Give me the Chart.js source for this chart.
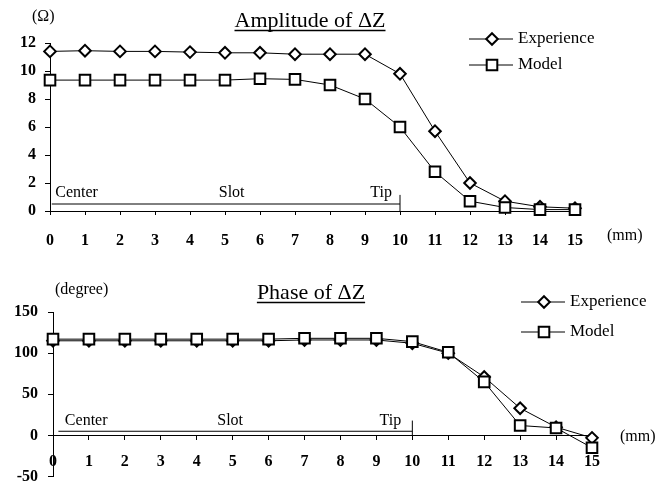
<!DOCTYPE html>
<html>
<head>
<meta charset="utf-8">
<script src="https://cdn.jsdelivr.net/npm/chart.js@4.4.1/dist/chart.umd.min.js"></script>
<style>
  body { margin: 0; background: #fff; width: 658px; height: 486px; overflow: hidden; position: relative; }
  canvas { position: absolute; left: 0; }
  #ampChart { top: 0; }
  #phaseChart { top: 255px; }
</style>
</head>
<body>
<canvas id="ampChart" width="658" height="255"></canvas>
<canvas id="phaseChart" width="658" height="231"></canvas>
<script>
// distance along the slot (mm)
const positions = [0, 1, 2, 3, 4, 5, 6, 7, 8, 9, 10, 11, 12, 13, 14, 15];
const xTicks = [0, 1, 2, 3, 4, 5, 6, 7, 8, 9, 10, 11, 12, 13, 14, 15];

// amplitude of dZ (ohm)
const ampExperience = [11.4, 11.45, 11.4, 11.4, 11.35, 11.3, 11.3, 11.2, 11.2, 11.2, 9.8, 5.7, 2.0, 0.7, 0.3, 0.2];
const ampModel = [9.35, 9.35, 9.35, 9.35, 9.35, 9.35, 9.45, 9.4, 9.0, 8.0, 6.0, 2.8, 0.7, 0.25, 0.1, 0.1];
const ampTicks = [0, 2, 4, 6, 8, 10, 12];

// phase of dZ (degree)
const phaseExperience = [115, 115, 115, 115, 115, 115, 115, 116, 116, 116, 112, 100, 71, 33, 10, -3];
const phaseModel = [117, 117, 117, 117, 117, 117, 117, 118, 118, 118, 114, 101, 65, 12, 9, -15];
const phaseTicks = [-50, 0, 50, 100, 150];

// Center / Slot / Tip marker lines
const ampSlotLine = [{x: 0.05, y: 0.5}, {x: 10, y: 0.5}];
const ampTipLine = [{x: 10, y: 0}, {x: 10, y: 1.15}];
const phaseSlotLine = [{x: 0.15, y: 5}, {x: 10, y: 5}];
const phaseTipLine = [{x: 10, y: 0}, {x: 10, y: 18}];

const serif = '"Liberation Serif", "Times New Roman", serif';
const tickFont = {family: serif, size: 16, weight: 'bold'};

function pts(ys) {
  return positions.map((x, i) => ({x: x, y: ys[i]}));
}

function marker(ctx, style, x, y) {
  ctx.save();
  ctx.fillStyle = '#fff';
  ctx.strokeStyle = '#000';
  ctx.lineWidth = 2;
  ctx.beginPath();
  if (style === 'rect') {
    ctx.rect(x - 5.3, y - 5.3, 10.6, 10.6);
  } else {
    ctx.moveTo(x, y - 5.8);
    ctx.lineTo(x + 5.8, y);
    ctx.lineTo(x, y + 5.8);
    ctx.lineTo(x - 5.8, y);
    ctx.closePath();
  }
  ctx.fill();
  ctx.stroke();
  ctx.restore();
}

function decorations(cfg) {
  return {
    id: 'decorations',
    afterDraw(chart) {
      const ctx = chart.ctx;
      const sx = chart.scales.x, sy = chart.scales.y;
      ctx.save();
      ctx.fillStyle = '#000';
      ctx.strokeStyle = '#000';

      // title, underlined
      ctx.font = '22px ' + serif;
      ctx.textAlign = 'center';
      ctx.textBaseline = 'alphabetic';
      ctx.fillText(cfg.title, cfg.titleX, cfg.titleY);
      const w = ctx.measureText(cfg.title).width;
      ctx.lineWidth = 1.5;
      ctx.beginPath();
      ctx.moveTo(cfg.titleX - w / 2, cfg.titleY + 3.5);
      ctx.lineTo(cfg.titleX + w / 2, cfg.titleY + 3.5);
      ctx.stroke();

      // units
      ctx.font = '16px ' + serif;
      ctx.textBaseline = 'middle';
      ctx.textAlign = 'left';
      ctx.fillText(cfg.yUnit, cfg.yUnitX, cfg.yUnitY);
      ctx.fillText('(mm)', cfg.xUnitX, cfg.xUnitY);

      // Center / Slot / Tip
      ctx.font = '16px ' + serif;
      const ly = sy.getPixelForValue(cfg.labelY);
      ctx.textAlign = 'left';
      ctx.fillText('Center', sx.getPixelForValue(cfg.centerX), ly);
      ctx.textAlign = 'center';
      ctx.fillText('Slot', sx.getPixelForValue(cfg.slotX), ly);
      ctx.fillText('Tip', sx.getPixelForValue(cfg.tipX), ly);

      // legend
      ctx.font = '17px ' + serif;
      ctx.textAlign = 'left';
      ctx.lineWidth = 1;
      cfg.legend.forEach((item, i) => {
        const y = cfg.legendY + i * cfg.legendDy;
        ctx.beginPath();
        ctx.moveTo(cfg.legendX, y);
        ctx.lineTo(cfg.legendX + 44, y);
        ctx.stroke();
        marker(ctx, item.style, cfg.legendX + 23, y);
        ctx.fillStyle = '#000';
        ctx.fillText(item.label, cfg.legendX + 49, y);
      });
      ctx.restore();
    }
  };
}

function seriesSet(label, data, style, order) {
  return {
    label: label,
    data: data,
    borderColor: '#000',
    borderWidth: 1,
    pointStyle: style,
    pointRadius: style === 'rect' ? 7.5 : 5.8,
    pointBorderWidth: 2,
    pointBackgroundColor: '#fff',
    pointBorderColor: '#000',
    tension: 0,
    clip: false,
    order: order
  };
}

function plainLine(data) {
  return {
    data: data,
    borderColor: '#000',
    borderWidth: 1,
    pointRadius: 0,
    order: 5
  };
}

function axes(yTicks, yMin, yMax, yWidth, xPos, xHeight, xPad, yPad) {
  return {
    x: {
      type: 'linear',
      min: 0,
      max: 15,
      position: xPos,
      afterBuildTicks: s => { s.ticks = xTicks.map(v => ({value: v})); },
      afterFit: s => { s.height = xHeight; s.paddingLeft = 0; s.paddingRight = 0; },
      grid: {drawOnChartArea: false, tickLength: 4, color: '#000'},
      border: {color: '#000', width: 1},
      ticks: {font: tickFont, color: '#000', padding: xPad, maxRotation: 0}
    },
    y: {
      min: yMin,
      max: yMax,
      afterBuildTicks: s => { s.ticks = yTicks.map(v => ({value: v})); },
      afterFit: s => { s.width = yWidth; s.paddingTop = 0; s.paddingBottom = 0; },
      grid: {drawOnChartArea: false, tickLength: 5, color: '#000'},
      border: {color: '#000', width: 1},
      ticks: {font: tickFont, color: '#000', padding: yPad}
    }
  };
}

const legendItems = [
  {label: 'Experience', style: 'rectRot'},
  {label: 'Model', style: 'rect'}
];

new Chart(document.getElementById('ampChart'), {
  type: 'line',
  data: {
    datasets: [
      seriesSet('Model', pts(ampModel), 'rect', 0),
      seriesSet('Experience', pts(ampExperience), 'rectRot', 1),
      plainLine(ampSlotLine),
      plainLine(ampTipLine)
    ]
  },
  options: {
    responsive: false,
    animation: false,
    layout: {padding: {left: 10, top: 43, right: 83, bottom: 4}},
    scales: axes(ampTicks, 0, 12, 40, 'bottom', 40, 16, 9),
    plugins: {legend: {display: false}, tooltip: {enabled: false}}
  },
  plugins: [decorations({
    title: 'Amplitude of \u0394Z', titleX: 310, titleY: 27,
    yUnit: '(\u03a9)', yUnitX: 32, yUnitY: 17,
    xUnitX: 607, xUnitY: 236,
    labelY: 1.3, centerX: 0.15, slotX: 5.19, tipX: 9.46,
    legend: legendItems, legendX: 469, legendY: 39, legendDy: 26
  })]
});

new Chart(document.getElementById('phaseChart'), {
  type: 'line',
  data: {
    datasets: [
      seriesSet('Model', pts(phaseModel), 'rect', 0),
      seriesSet('Experience', pts(phaseExperience), 'rectRot', 1),
      plainLine(phaseSlotLine),
      plainLine(phaseTipLine)
    ]
  },
  options: {
    responsive: false,
    animation: false,
    layout: {padding: {left: 10, top: 57, right: 66, bottom: 7}},
    scales: axes(phaseTicks, -50, 150, 43, {y: 0}, 0, 13, 10),
    plugins: {legend: {display: false}, tooltip: {enabled: false}}
  },
  plugins: [decorations({
    title: 'Phase of \u0394Z', titleX: 311, titleY: 44,
    yUnit: '(degree)', yUnitX: 55, yUnitY: 35,
    xUnitX: 620, xUnitY: 182,
    labelY: 17.6, centerX: 0.33, slotX: 4.93, tipX: 9.39,
    legend: legendItems, legendX: 521, legendY: 47, legendDy: 30
  })]
});
</script>
</body>
</html>
